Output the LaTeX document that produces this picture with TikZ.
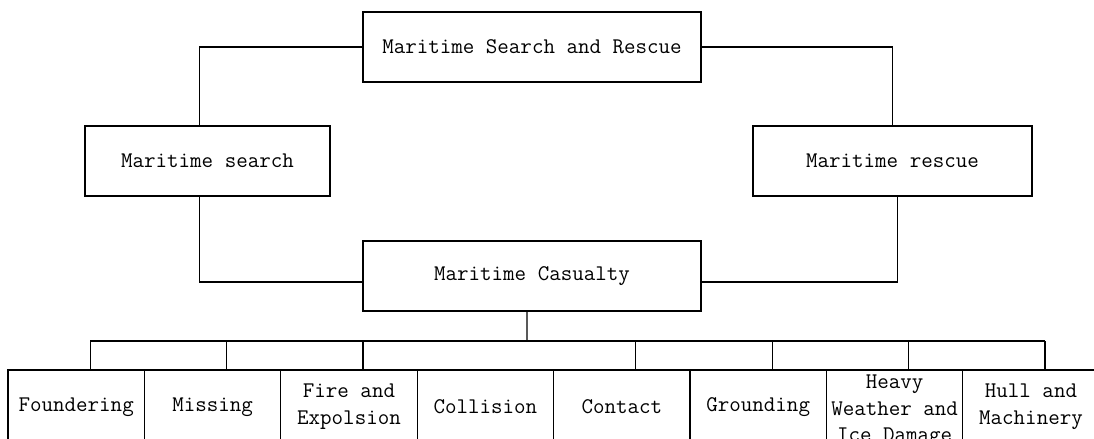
\documentclass[tikz,border=0pt]{standalone}
\usepackage{tikz}
\usetikzlibrary{calc}

\begin{document}
\begin{tikzpicture}[x=0.025cm,y=-0.025cm]
\tikzstyle{box}=[draw,outer sep=0pt,line width=0.9pt,minimum height=1.75cm,font=\ttfamily\fontsize{15.9pt}{19pt}\selectfont]
\tikzstyle{leaf}=[box,align=center,minimum width=3.41cm,minimum height=1.85cm,anchor=north]
\tikzstyle{link}=[line width=0.9pt]

\useasboundingbox (0,0) rectangle (1094,439);

\node (sar) [box,minimum width=8.45cm] at (532,47) {Maritime Search and Rescue};
\node (search) [box,minimum width=6.125cm] at (207.5,161) {Maritime search};
\node (rescue) [box,minimum width=6.975cm] at (892.5,161) {Maritime rescue\hspace{0.775cm}};
\node (casualty) [box,minimum width=8.45cm] at (532,276) {Maritime Casualty};

\node (c1) [leaf] at (76.2,370) {Foundering};
\node (c2) [leaf] at (212.6,370) {Missing};
\node (c3) [leaf] at (349,370) {Fire and\\Expolsion};
\node (c4) [leaf] at (485.4,370) {Collision};
\node (c5) [leaf] at (621.8,370) {Contact};
\node (c6) [leaf] at (758.2,370) {Grounding};
\node (c7) [leaf] at (894.6,370) {Heavy\\Weather and\\Ice Damage};
\node (c8) [leaf] at (1031,370) {Hull and\\Machinery};

\draw [link] (sar.west) -| ([xshift=-0.2cm]search.north);
\draw [link] (sar.east) -| (rescue.north);
\draw [link] ([xshift=-0.2cm]search.south) |- ([yshift=-0.15cm]casualty.west);
\draw [link] ([xshift=0.125cm]rescue.south) |- ([yshift=-0.15cm]casualty.east);

\coordinate (bus) at (527,341);
\draw [link] ([xshift=-0.125cm]casualty.south) -- (bus);
\draw [link] ([xshift=0.35cm]c1.north |- bus) -- ([xshift=0.35cm]c8.north |- bus);
\foreach \i in {1,2,3,5,6,7,8}
  \draw [link] ([xshift=0.35cm]c\i.north) -- ([xshift=0.35cm]c\i.north |- bus);

\end{tikzpicture}
\end{document}
